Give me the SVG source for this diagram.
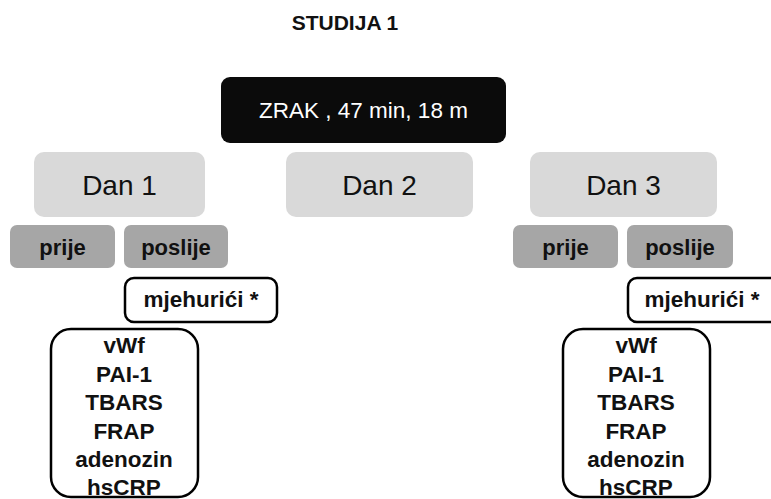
<svg xmlns="http://www.w3.org/2000/svg" width="771" height="499" viewBox="0 0 771 499">
<style>
.t{font-family:"Liberation Sans",Arial,sans-serif;text-anchor:middle}
.b{font-weight:bold}
.day{fill:#d9d9d9}
.day text{font-size:28px;fill:#111}
.pp{fill:#a6a6a6}
.pp text{font-size:22px;fill:#111;font-weight:bold}
.box{fill:#fff;stroke:#000;stroke-width:2.5}
.lbl{font-size:22.5px;fill:#111;font-weight:bold}
</style>
<rect width="771" height="499" fill="#fff"/>
<g id="title"><text class="t b" x="345" y="30" font-size="21" fill="#111">STUDIJA 1</text></g>
<g id="zrak"><rect x="221" y="77" width="285" height="66" rx="9" fill="#0b0b0b"/><text class="t" x="363.5" y="118" font-size="22.5" fill="#fff">ZRAK , 47 min, 18 m</text></g>
<g id="dan1" class="day"><rect x="34" y="152" width="171" height="65" rx="10"/><text class="t" x="119.5" y="195">Dan 1</text></g>
<g id="dan2" class="day"><rect x="286" y="152" width="187" height="65" rx="10"/><text class="t" x="379.5" y="195">Dan 2</text></g>
<g id="dan3" class="day"><rect x="530" y="152" width="187" height="65" rx="10"/><text class="t" x="623.5" y="195">Dan 3</text></g>
<g id="prije1" class="pp"><rect x="10" y="225" width="105" height="43" rx="7"/><text class="t" x="62.5" y="255">prije</text></g>
<g id="poslije1" class="pp"><rect x="124" y="225" width="104" height="43" rx="7"/><text class="t" x="176" y="255">poslije</text></g>
<g id="prije3" class="pp"><rect x="513" y="225" width="105" height="43" rx="7"/><text class="t" x="565.5" y="255">prije</text></g>
<g id="poslije3" class="pp"><rect x="627" y="225" width="106" height="43" rx="7"/><text class="t" x="680" y="255">poslije</text></g>
<g id="mjeh1"><rect class="box" x="125" y="278" width="152" height="44" rx="9"/><text class="t lbl" x="201" y="307">mjehurići *</text></g>
<g id="mjeh3"><rect class="box" x="628" y="278" width="160" height="44" rx="9"/><text class="t lbl" x="702" y="307">mjehurići *</text></g>
<g id="list1"><rect class="box" x="51" y="329" width="147" height="168" rx="20"/>
<text class="t lbl" x="124"><tspan x="124" y="353">vWf</tspan><tspan x="124" y="381.5">PAI-1</tspan><tspan x="124" y="410">TBARS</tspan><tspan x="124" y="438.5">FRAP</tspan><tspan x="124" y="467">adenozin</tspan><tspan x="124" y="495">hsCRP</tspan></text></g>
<g id="list3"><rect class="box" x="563" y="329" width="147" height="168" rx="20"/>
<text class="t lbl" x="636"><tspan x="636" y="353">vWf</tspan><tspan x="636" y="381.5">PAI-1</tspan><tspan x="636" y="410">TBARS</tspan><tspan x="636" y="438.5">FRAP</tspan><tspan x="636" y="467">adenozin</tspan><tspan x="636" y="495">hsCRP</tspan></text></g>
<g id="connectors"></g>
</svg>
